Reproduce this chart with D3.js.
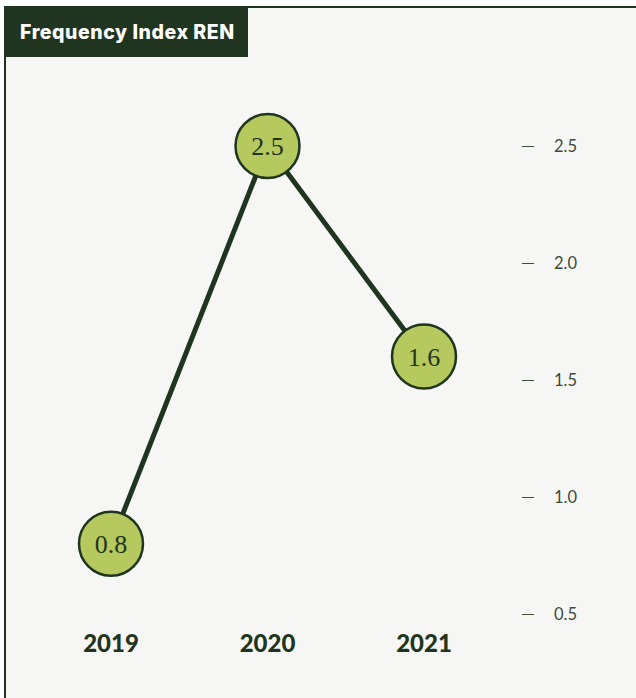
<!DOCTYPE html>
<html>
<head>
<meta charset="utf-8">
<script src="https://cdn.jsdelivr.net/npm/d3@7"></script>
<style>
  html, body { margin: 0; padding: 0; background: #ffffff; }
  svg { display: block; }
</style>
</head>
<body>
<svg id="chart" width="636" height="698"></svg>
<script>
// Frequency Index REN by year
const years = ["2019", "2020", "2021"];
const values = [0.8, 2.5, 1.6];
const yTicks = [0.5, 1.0, 1.5, 2.0, 2.5];
const title = "Frequency Index REN";

const W = 636, H = 698;
const dark = "#1f3520";
const green = "#b5c95e";
const panelBg = "#f6f6f4";

const svg = d3.select("#chart");

// panel with top and left rules
svg.append("rect").attr("x", 4).attr("y", 6).attr("width", W - 4).attr("height", H - 6).attr("fill", panelBg);
svg.append("line").attr("x1", 4).attr("x2", W).attr("y1", 7).attr("y2", 7)
  .attr("stroke", dark).attr("stroke-width", 2);
svg.append("line").attr("x1", 5).attr("x2", 5).attr("y1", 6).attr("y2", H)
  .attr("stroke", dark).attr("stroke-width", 2);

// title tab
svg.append("rect").attr("x", 4).attr("y", 6).attr("width", 244).attr("height", 51).attr("fill", dark);
svg.append("text").attr("x", 20).attr("y", 39)
  .attr("fill", "#ffffff")
  .attr("font-family", "Inter, Lato, sans-serif")
  .attr("font-weight", 800)
  .attr("font-size", 19.5)
  .attr("letter-spacing", 0.55)
  .text(title);

// scales
const x = d3.scalePoint().domain(years).range([111, 424]);
const y = d3.scaleLinear().domain([0.5, 2.5]).range([614, 146]);

// right-hand value axis
const yAxis = d3.axisRight(y)
  .tickValues(yTicks)
  .tickFormat(d3.format(".1f"))
  .tickSize(12)
  .tickPadding(20);
const ag = svg.append("g").attr("transform", "translate(522,0)").call(yAxis);
ag.select(".domain").remove();
ag.selectAll(".tick line").attr("stroke", "#3d4d3d").attr("stroke-width", 1);
ag.selectAll(".tick text")
  .attr("fill", "#3d4a3d")
  .attr("font-family", "Lato, 'Open Sans', sans-serif")
  .attr("font-size", 16.5);

// year labels
svg.append("g").selectAll("text").data(years).join("text")
  .attr("x", d => x(d))
  .attr("y", 652)
  .attr("text-anchor", "middle")
  .attr("fill", dark)
  .attr("font-family", "Lato, 'Open Sans', sans-serif")
  .attr("font-weight", 900)
  .attr("font-size", 24)
  .text(d => d);

const pts = years.map((yr, i) => ({ year: yr, value: values[i] }));

// connecting line
svg.append("path")
  .datum(pts)
  .attr("fill", "none")
  .attr("stroke", dark)
  .attr("stroke-width", 5)
  .attr("d", d3.line().x(d => x(d.year)).y(d => y(d.value)));

// value markers
const m = svg.append("g").selectAll("g").data(pts).join("g")
  .attr("transform", d => `translate(${x(d.year)},${y(d.value)})`);
m.append("circle").attr("r", 32).attr("fill", green).attr("stroke", dark).attr("stroke-width", 2.5);
m.append("text")
  .attr("text-anchor", "middle")
  .attr("dy", "0.35em")
  .attr("fill", dark)
  .attr("font-family", "'Liberation Serif', 'DejaVu Serif', serif")
  .attr("font-size", 26)
  .text(d => d.value.toFixed(1));
</script>
</body>
</html>
